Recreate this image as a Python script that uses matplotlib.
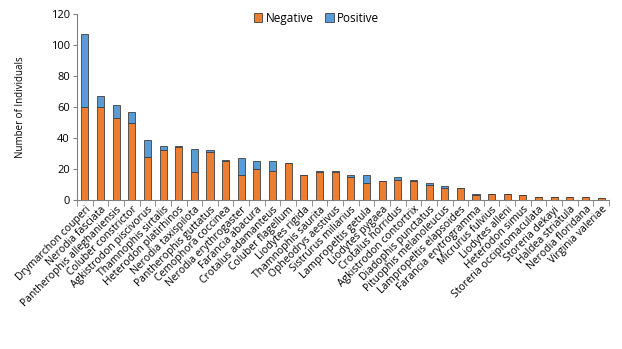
import matplotlib
matplotlib.use("Agg")
import matplotlib.pyplot as plt
import numpy as np

species = ["Drymarchon couperi", "Nerodia fasciata", "Pantherophis alleghaniensis",
           "Coluber constrictor", "Agkistrodon piscivorus", "Thamnophis sirtalis",
           "Heterodon platirhinos", "Nerodia taxispilota", "Pantherophis guttatus",
           "Cemophora coccinea", "Nerodia erythrogaster", "Farancia abacura",
           "Crotalus adamanteus", "Coluber flagellum", "Liodytes rigida",
           "Thamnophis saurita", "Opheodrys aestivus", "Sistrurus miliarius",
           "Lampropeltis getula", "Liodytes pygaea", "Crotalus horridus",
           "Agkistrodon contortrix", "Diadophis punctatus", "Pituophis melanoleucus",
           "Lampropeltis elapsoides", "Farancia erytrogramma", "Micrurus fulvius",
           "Liodytes alleni", "Heterodon simus", "Storeria occipitomaculata",
           "Storeria dekayi", "Haldea striatula", "Nerodia floridana", "Virginia valeriae"]
negative = [60, 60, 53, 50, 28, 32, 34, 18, 31, 25, 16, 20, 19, 24, 16, 18, 18, 15,
            11, 12, 13, 12, 10, 8, 8, 3, 4, 4, 3, 2, 2, 2, 2, 1]
positive = [47, 7, 8, 7, 11, 3, 1, 15, 1, 1, 11, 5, 6, 0, 0, 1, 1, 1,
            5, 0, 2, 1, 1, 1, 0, 1, 0, 0, 0, 0, 0, 0, 0, 0]

plt.rcParams['font.family'] = ['Open Sans', 'DejaVu Sans']

fig = plt.figure(figsize=(6.22, 3.49), dpi=100)
ax = fig.add_axes([77/622, 1-200/349, (609-77)/622, 186/349])

x = np.arange(len(species))
orange = "#ED7D31"
blue = "#5B9BD5"
edge = "#404040"
ax.bar(x, negative, width=0.45, color=orange, edgecolor=edge, linewidth=0.6, label="Negative", zorder=3)
ax.bar(x, positive, width=0.45, bottom=negative, color=blue, edgecolor=edge, linewidth=0.6, label="Positive", zorder=3)

ax.set_xlim(-0.5, len(species)-0.5)
ax.set_ylim(0, 120)
ax.set_yticks(range(0, 121, 20))
ax.tick_params(axis='y', labelsize=8, length=3, color="#808080", direction='out', pad=2)
ax.set_xticks(x)
ax.set_xticklabels(species, rotation=45, ha='right', rotation_mode='anchor', fontsize=7.5)
ax.tick_params(axis='x', length=0, pad=3)
ax.set_xticks(np.arange(-0.5, len(species), 1), minor=True)
ax.tick_params(axis='x', which='minor', length=4, color="#808080", direction='out')

for s in ['top', 'right']:
    ax.spines[s].set_visible(False)
for s in ['left', 'bottom']:
    ax.spines[s].set_color("#808080")
    ax.spines[s].set_linewidth(0.8)

ax.set_ylabel("Number of Individuals", fontsize=7, labelpad=18)

leg = ax.legend(loc='upper center', bbox_to_anchor=(0.45, 1.07), ncol=2, frameon=False,
                fontsize=8.5, handlelength=0.7, handleheight=0.7, columnspacing=1.0, handletextpad=0.3)

fig.savefig("out.png", dpi=100)
